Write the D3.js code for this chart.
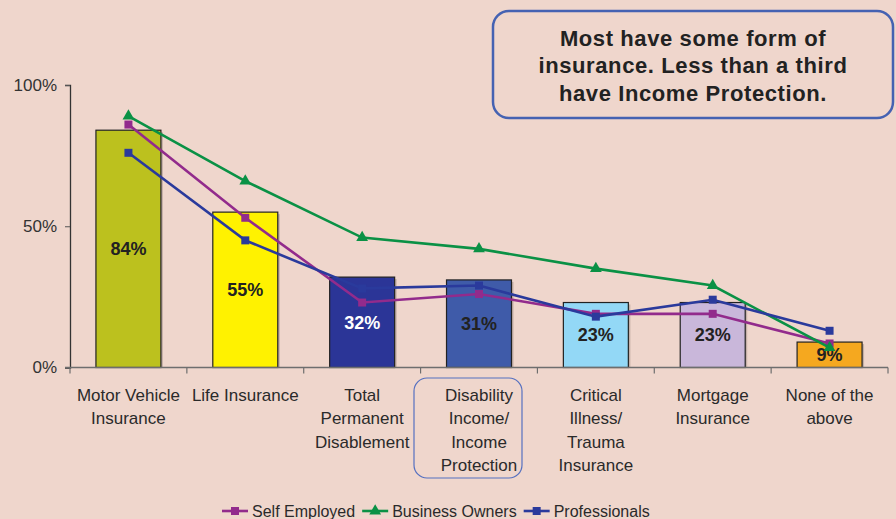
<!DOCTYPE html>
<html>
<head>
<meta charset="utf-8">
<script src="https://cdn.jsdelivr.net/npm/d3@7/dist/d3.min.js"></script>
<style>
  html, body { margin: 0; padding: 0; background: #EFD6CC; }
  svg { display: block; font-family: "Liberation Sans", Arial, sans-serif; }
</style>
</head>
<body>
<svg id="chart" width="896" height="519"></svg>
<script>
// Insurance categories and their multi-line axis labels
const categories = ["Motor Vehicle Insurance", "Life Insurance", "Total Permanent Disablement",
  "Disability Income/ Income Protection", "Critical Illness/ Trauma Insurance",
  "Mortgage Insurance", "None of the above"];
const tickLabels = [
  ["Motor Vehicle", "Insurance"],
  ["Life Insurance"],
  ["Total", "Permanent", "Disablement"],
  ["Disability", "Income/", "Income", "Protection"],
  ["Critical", "Illness/", "Trauma", "Insurance"],
  ["Mortgage", "Insurance"],
  ["None of the", "above"]
];

// Overall share holding each type of cover (%)
const overallValues = [84, 55, 32, 31, 23, 23, 9];

// Share by segment (%)
const selfEmployed   = [86, 53, 23, 26, 19, 19, 8.5];
const businessOwners = [89, 66, 46, 42, 35, 29, 7];
const professionals  = [76, 45, 28, 29, 18, 24, 13];

const yTicks = [0, 50, 100];
const seriesNames = ["Self Employed", "Business Owners", "Professionals"];
const calloutLines = ["Most have some form of", "insurance. Less than a third", "have Income Protection."];

// Styling
const barFills = ["#BCC11E", "#FFF200", "#2B3597", "#3F5BA9", "#93D8F6", "#C9B7DA", "#F5A81F"];
const barLabelFills = ["#222", "#222", "#fff", "#222", "#222", "#222", "#222"];
const seriesColors = ["#922B8C", "#0A9145", "#2A3A9C"];
const seriesMarkers = ["square", "triangle", "square"];

const svg = d3.select("#chart");

const x = d3.scaleBand()
  .domain(categories)
  .range([70, 888])
  .paddingInner(0.444)
  .paddingOuter(0.222);

const y = d3.scaleLinear().domain([0, 100]).range([367.5, 85]);

const step = x.step();
const cx = c => x(c) + x.bandwidth() / 2;

// Y axis
const yAxis = svg.append("g")
  .attr("transform", "translate(70,0)")
  .call(d3.axisLeft(y).tickValues(yTicks).tickFormat(d => d + "%").tickSize(5).tickPadding(8));
yAxis.select(".domain").attr("stroke", "#333").attr("stroke-width", 1.3);
yAxis.selectAll(".tick line").attr("stroke", "#555");
yAxis.selectAll(".tick text").attr("font-size", 17).attr("fill", "#333")
  .attr("font-family", "'Liberation Sans', Arial, sans-serif");

// Bars with a soft drop shadow
const bars = svg.append("g");
bars.selectAll("rect.shadow")
  .data(categories)
  .join("rect")
  .attr("class", "shadow")
  .attr("x", d => x(d) + 2)
  .attr("y", (d, i) => y(overallValues[i]) + 2)
  .attr("width", x.bandwidth())
  .attr("height", (d, i) => y(0) - y(overallValues[i]) - 2)
  .attr("fill", "#B39F97")
  .attr("opacity", 0.7);

bars.selectAll("rect.bar")
  .data(categories)
  .join("rect")
  .attr("class", "bar")
  .attr("x", d => x(d))
  .attr("y", (d, i) => y(overallValues[i]))
  .attr("width", x.bandwidth())
  .attr("height", (d, i) => y(0) - y(overallValues[i]))
  .attr("fill", (d, i) => barFills[i])
  .attr("stroke", "#222")
  .attr("stroke-width", 1.2);

// X axis baseline with category dividers
const xAxisG = svg.append("g");
xAxisG.append("line")
  .attr("x1", 65).attr("x2", 888)
  .attr("y1", y(0)).attr("y2", y(0))
  .attr("stroke", "#6E6E6E").attr("stroke-width", 1.5);
xAxisG.selectAll("line.div")
  .data(d3.range(categories.length + 1))
  .join("line")
  .attr("class", "div")
  .attr("x1", i => 70 + i * step).attr("x2", i => 70 + i * step)
  .attr("y1", y(0)).attr("y2", y(0) + 6)
  .attr("stroke", "#6E6E6E").attr("stroke-width", 1.2);

// Category labels
const labels = svg.append("g");
categories.forEach((c, i) => {
  const t = labels.append("text")
    .attr("text-anchor", "middle")
    .attr("font-size", 17)
    .attr("fill", "#2a2a2a")
    .attr("y", 400.5);
  tickLabels[i].forEach((line, j) => {
    t.append("tspan").attr("x", cx(c)).attr("dy", j === 0 ? 0 : 23.6).text(line);
  });
});

// Highlight around the Income Protection label
const hl = categories[3];
svg.append("rect")
  .attr("x", cx(hl) - 65).attr("y", 378)
  .attr("width", 108).attr("height", 100)
  .attr("rx", 13)
  .attr("fill", "none")
  .attr("stroke", "#5570C0").attr("stroke-width", 1.2);

// Bar value labels
svg.append("g").selectAll("text")
  .data(categories)
  .join("text")
  .attr("x", d => cx(d))
  .attr("y", (d, i) => (y(overallValues[i]) + y(0)) / 2)
  .attr("dy", "0.36em")
  .attr("text-anchor", "middle")
  .attr("font-size", 18)
  .attr("font-weight", "bold")
  .attr("fill", (d, i) => barLabelFills[i])
  .text((d, i) => overallValues[i] + "%");

// Segment lines
const seriesData = [selfEmployed, businessOwners, professionals];
const line = d3.line().x((d, i) => cx(categories[i])).y(d => y(d));
const sym = {
  square: d3.symbol().type(d3.symbolSquare).size(64),
  triangle: d3.symbol().type(d3.symbolTriangle).size(60)
};

seriesData.forEach((vals, s) => {
  const g = svg.append("g");
  g.append("path")
    .datum(vals)
    .attr("d", line)
    .attr("fill", "none")
    .attr("stroke", seriesColors[s])
    .attr("stroke-width", 2.6);
  g.selectAll("path.m")
    .data(vals)
    .join("path")
    .attr("class", "m")
    .attr("transform", (d, i) => `translate(${cx(categories[i])},${y(d)})`)
    .attr("d", sym[seriesMarkers[s]]())
    .attr("fill", seriesColors[s]);
});

// Legend
const legend = svg.append("g").attr("transform", "translate(0,511)");
let lx = 222;
seriesNames.forEach((name, s) => {
  const item = legend.append("g").attr("transform", `translate(${lx},0)`);
  item.append("line").attr("x1", 0).attr("x2", 26).attr("y1", 0).attr("y2", 0)
    .attr("stroke", seriesColors[s]).attr("stroke-width", 2.6);
  item.append("path").attr("transform", "translate(13,0)")
    .attr("d", sym[seriesMarkers[s]]()).attr("fill", seriesColors[s]);
  const t = item.append("text").attr("x", 30).attr("y", 0).attr("dy", "0.36em")
    .attr("font-size", 16).attr("fill", "#2a2a2a").text(name);
  lx += 30 + t.node().getComputedTextLength() + 7;
});

// Callout
svg.append("rect")
  .attr("x", 493).attr("y", 11)
  .attr("width", 400).attr("height", 107)
  .attr("rx", 16)
  .attr("fill", "none")
  .attr("stroke", "#4562B2").attr("stroke-width", 2.5);
const ct = svg.append("text")
  .attr("text-anchor", "middle")
  .attr("font-size", 22)
  .attr("font-weight", "bold")
  .attr("letter-spacing", 0.6)
  .attr("fill", "#222")
  .attr("y", 46);
calloutLines.forEach((l, j) => {
  ct.append("tspan").attr("x", 693).attr("dy", j === 0 ? 0 : 27.3).text(l);
});
</script>
</body>
</html>
